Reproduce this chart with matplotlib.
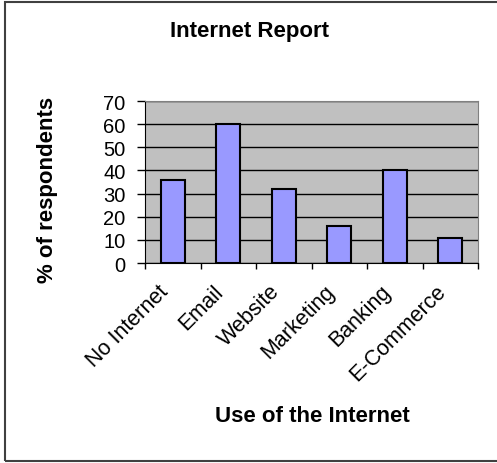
import numpy as np
import matplotlib.pyplot as plt
from matplotlib.patches import Rectangle
from matplotlib.transforms import ScaledTranslation

# Datos del informe
categorias = ["No Internet", "Email", "Website", "Marketing", "Banking", "E-Commerce"]
porcentajes = [36, 60, 32, 16, 40, 11]
yticks = [0, 10, 20, 30, 40, 50, 60, 70]

plt.rcParams['font.family'] = ['Liberation Sans', 'DejaVu Sans']

W, H = 497, 464
fig = plt.figure(figsize=(W / 100, H / 100), dpi=100)

# Área del gráfico en píxeles
x0, x1, ytop, ybot = 145, 478, 102, 264
ax = fig.add_axes([x0 / W, 1 - ybot / H, (x1 - x0) / W, (ybot - ytop) / H])
ax.set_facecolor("#C0C0C0")

x = np.arange(len(categorias))
ax.bar(x, porcentajes, width=0.43, color="#9999FF", edgecolor="black", linewidth=1.5, zorder=3)

ax.set_xlim(-0.5, len(categorias) - 0.5)
ax.set_ylim(0, 70)
ax.set_yticks(yticks)
ax.tick_params(axis="y", labelsize=14.5, length=6, width=1, direction="out", pad=8)
ax.yaxis.grid(True, color="black", linewidth=1, zorder=1)
ax.set_axisbelow(True)

# Marcas del eje x entre categorías, etiquetas centradas y giradas
ax.set_xticks(np.arange(len(categorias) + 1) - 0.5)
ax.set_xticklabels([])
ax.set_xticks(x, minor=True)
ax.set_xticklabels(categorias, minor=True, rotation=45, ha="right", va="top",
                   rotation_mode="anchor", fontsize=15.5)
ax.tick_params(axis="x", which="major", length=4.5, width=1, direction="out")
ax.tick_params(axis="x", which="minor", length=0, pad=12.5)

# desplazar las etiquetas giradas hacia la izquierda
desplazamiento = ScaledTranslation(-15 / 100, 0, fig.dpi_scale_trans)
for etiqueta in ax.get_xticklabels(minor=True):
    etiqueta.set_transform(etiqueta.get_transform() + desplazamiento)

for lado in ["top", "right"]:
    ax.spines[lado].set_color("#808080")
for lado in ["left", "bottom"]:
    ax.spines[lado].set_color("black")

fig.text(250 / W, 1 - 32 / H, "Internet Report", ha="center", va="center",
         fontsize=16, fontweight="bold")
fig.text(312 / W, 1 - 417 / H, "Use of the Internet", ha="center", va="center",
         fontsize=16, fontweight="bold")
fig.text(48 / W, 1 - 190 / H, "% of respondents", ha="center", va="center",
         rotation=90, fontsize=16, fontweight="bold")

# Marco exterior
fig.patches.append(Rectangle((4.5 / W, 2 / H), 520 / W, 459.5 / H, transform=fig.transFigure,
                             fill=False, edgecolor="#404040", linewidth=1.5))

fig.savefig("out.png", dpi=100, facecolor="white")
